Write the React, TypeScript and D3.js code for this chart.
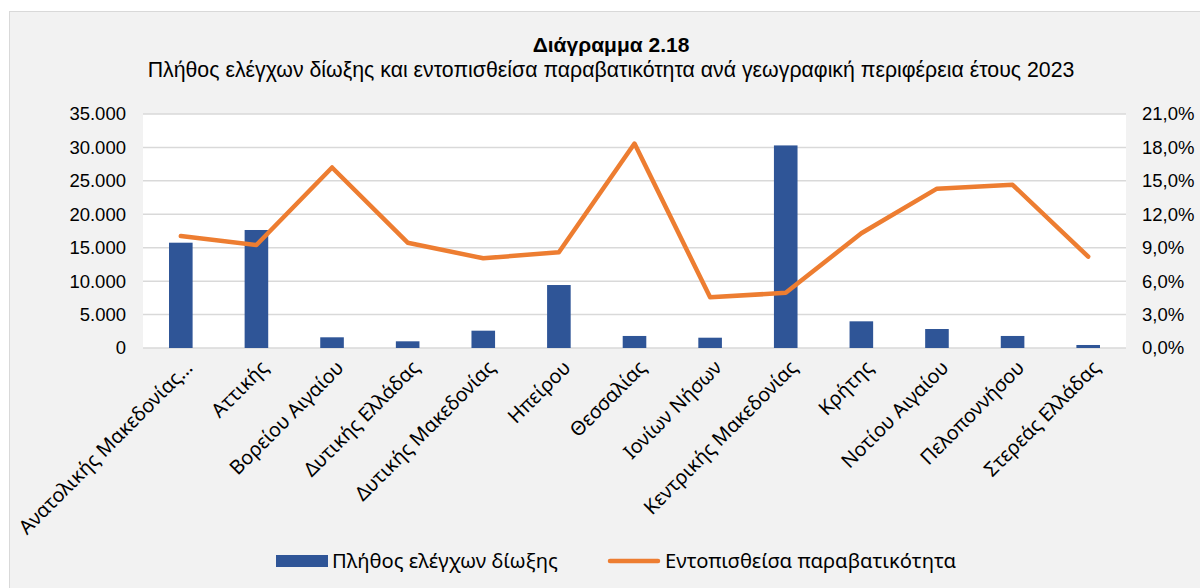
import * as React from 'react';
import * as d3 from 'd3';

const regions = [
  'Ανατολικής Μακεδονίας…',
  'Αττικής',
  'Βορείου Αιγαίου',
  'Δυτικής Ελλάδας',
  'Δυτικής Μακεδονίας',
  'Ηπείρου',
  'Θεσσαλίας',
  'Ιονίων Νήσων',
  'Κεντρικής Μακεδονίας',
  'Κρήτης',
  'Νοτίου Αιγαίου',
  'Πελοποννήσου',
  'Στερεάς Ελλάδας'
];

// Πλήθος ελέγχων δίωξης
const checks = [15750, 17650, 1600, 1000, 2590, 9420, 1800, 1540, 30300, 3990, 2840, 1800, 450];

// Εντοπισθείσα παραβατικότητα (%)
const violationRate = [10.05, 9.24, 16.2, 9.45, 8.05, 8.6, 18.35, 4.55, 4.95, 10.3, 14.3, 14.65, 8.2];

const leftTicks = [0, 5000, 10000, 15000, 20000, 25000, 30000, 35000];
const rightTicks = [0, 3, 6, 9, 12, 15, 18, 21];

const legendLabels = ['Πλήθος ελέγχων δίωξης', 'Εντοπισθείσα παραβατικότητα'];

const chartTitle = 'Διάγραμμα 2.18';
const chartSubtitle = 'Πλήθος ελέγχων δίωξης και εντοπισθείσα παραβατικότητα ανά γεωγραφική περιφέρεια έτους 2023';

const width = 1200;
const height = 588;
const margin = { top: 114, bottom: 240, left: 143, right: 74 };
const arial = '"Liberation Sans", Arial, sans-serif';
const segoe = '"Noto Sans", "Open Sans", sans-serif';
const barColor = '#2F5597';
const lineColor = '#ED7D31';
const gridColor = '#D9D9D9';

export default function App() {
  const ref = React.useRef<SVGSVGElement>(null);

  React.useEffect(() => {
    const svg = d3.select(ref.current);
    svg.selectAll('*').remove();

    const innerBottom = height - margin.bottom;
    const innerRight = width - margin.right;

    const x = d3.scaleBand()
      .domain(regions)
      .range([margin.left, innerRight])
      .paddingInner(0.688)
      .paddingOuter(0.344);

    const yLeft = d3.scaleLinear().domain([0, 35000]).range([innerBottom, margin.top]);
    const yRight = d3.scaleLinear().domain([0, 21]).range([innerBottom, margin.top]);

    // background frame
    svg.append('rect')
      .attr('x', 9.5).attr('y', 11.5)
      .attr('width', width + 20).attr('height', height + 20)
      .attr('fill', '#F2F2F2')
      .attr('stroke', gridColor);

    // plot area
    svg.append('rect')
      .attr('x', margin.left).attr('y', margin.top)
      .attr('width', innerRight - margin.left)
      .attr('height', innerBottom - margin.top)
      .attr('fill', 'white');

    // titles
    svg.append('text')
      .attr('x', 611).attr('y', 52)
      .attr('text-anchor', 'middle')
      .style('font-family', arial).style('font-size', '21px').style('font-weight', 'bold')
      .text(chartTitle);
    svg.append('text')
      .attr('x', 611).attr('y', 77)
      .attr('text-anchor', 'middle')
      .style('font-family', arial).style('font-size', '21.3px')
      .text(chartSubtitle);

    // gridlines
    svg.append('g').selectAll('line')
      .data(leftTicks)
      .enter().append('line')
      .attr('x1', margin.left).attr('x2', innerRight)
      .attr('y1', d => yLeft(d)).attr('y2', d => yLeft(d))
      .attr('stroke', gridColor)
      .attr('stroke-width', 1.5);

    // left axis labels
    svg.append('g').selectAll('text')
      .data(leftTicks)
      .enter().append('text')
      .attr('x', 126).attr('y', d => yLeft(d))
      .attr('dy', '0.35em')
      .attr('text-anchor', 'end')
      .style('font-family', arial).style('font-size', '18.5px')
      .text(d => d3.format(',')(d).replace(/,/g, '.'));

    // right axis labels
    svg.append('g').selectAll('text')
      .data(rightTicks)
      .enter().append('text')
      .attr('x', 1142).attr('y', d => yRight(d))
      .attr('dy', '0.35em')
      .attr('text-anchor', 'start')
      .style('font-family', arial).style('font-size', '18.5px')
      .text(d => d.toFixed(1).replace('.', ',') + '%');

    // bars
    svg.append('g').selectAll('rect')
      .data(checks)
      .enter().append('rect')
      .attr('x', (d, i) => x(regions[i]) as number)
      .attr('y', d => yLeft(d))
      .attr('width', x.bandwidth())
      .attr('height', d => innerBottom - yLeft(d))
      .attr('fill', barColor);

    // line
    const line = d3.line<number>()
      .x((d, i) => (x(regions[i]) as number) + x.bandwidth() / 2)
      .y(d => yRight(d));

    svg.append('path')
      .datum(violationRate)
      .attr('d', line)
      .attr('fill', 'none')
      .attr('stroke', lineColor)
      .attr('stroke-width', 4.5)
      .attr('stroke-linecap', 'round')
      .attr('stroke-linejoin', 'round');

    // category labels
    svg.append('g').selectAll('text')
      .data(regions)
      .enter().append('text')
      .attr('transform', d => `translate(${(x(d) as number) + x.bandwidth() / 2 + 3},${innerBottom + 11}) rotate(-45)`)
      .attr('dy', '0.71em')
      .attr('text-anchor', 'end')
      .style('font-family', segoe).style('font-size', '19.7px')
      .text(d => d);

    // legend
    const legend = svg.append('g').attr('transform', 'translate(276,561)');
    legend.append('rect')
      .attr('x', 0).attr('y', -6)
      .attr('width', 52).attr('height', 12)
      .attr('fill', barColor);
    legend.append('text')
      .attr('x', 56).attr('dy', '0.35em')
      .style('font-family', segoe).style('font-size', '20.2px')
      .text(legendLabels[0]);
    legend.append('line')
      .attr('x1', 334).attr('x2', 382)
      .attr('y1', 0).attr('y2', 0)
      .attr('stroke', lineColor)
      .attr('stroke-width', 4.5)
      .attr('stroke-linecap', 'round');
    legend.append('text')
      .attr('x', 389).attr('dy', '0.35em')
      .style('font-family', segoe).style('font-size', '20.2px')
      .text(legendLabels[1]);
  }, []);

  return (
    <svg
      ref={ref}
      width={width}
      height={height}
      style={{ position: 'fixed', left: 0, top: 0, background: 'white' }}
    />
  );
}
